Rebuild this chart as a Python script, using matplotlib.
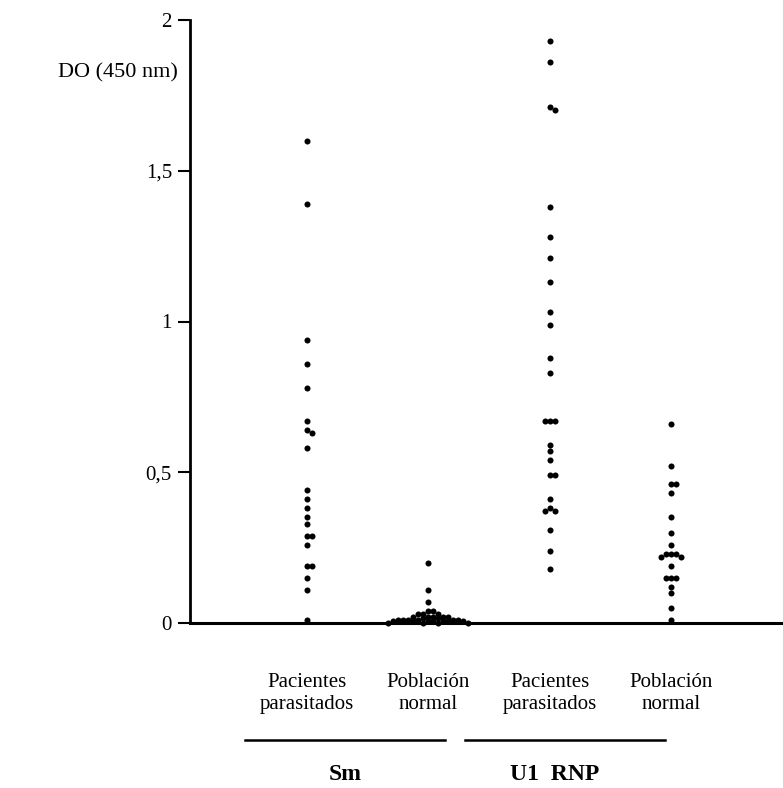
import numpy as np
import matplotlib
matplotlib.use('Agg')
from matplotlib import pyplot as plt
from matplotlib.lines import Line2D

plt.rcParams['font.family'] = ['Liberation Serif', 'DejaVu Serif']

# data (DO at 450 nm)
categories = ['Pacientes\nparasitados', 'Población\nnormal',
              'Pacientes\nparasitados', 'Población\nnormal']
groups = ['Sm', 'U1  RNP']

sm_pacientes = [1.60, 1.39, 0.94, 0.86, 0.78, 0.67, 0.64, 0.63, 0.58, 0.44, 0.41,
                0.38, 0.35, 0.33, 0.29, 0.29, 0.26, 0.19, 0.19, 0.15, 0.11, 0.01]
sm_normal = [0.20, 0.11, 0.07, 0.04, 0.04, 0.03, 0.03, 0.03, 0.02, 0.02, 0.02,
             0.02, 0.02, 0.015, 0.015, 0.01, 0.01, 0.01, 0.01, 0.01, 0.01, 0.005,
             0.005, 0.005, 0.005, 0.005, 0.005, 0.005, 0.0, 0.0, 0.0, 0.0]
u1_pacientes = [1.93, 1.86, 1.71, 1.70, 1.38, 1.28, 1.21, 1.13, 1.03, 0.99, 0.88,
                0.83, 0.67, 0.67, 0.67, 0.59, 0.57, 0.54, 0.49, 0.49, 0.41, 0.38,
                0.37, 0.37, 0.31, 0.24, 0.18]
u1_normal = [0.66, 0.52, 0.46, 0.46, 0.43, 0.35, 0.30, 0.26, 0.23, 0.23, 0.23,
             0.22, 0.22, 0.19, 0.15, 0.15, 0.15, 0.12, 0.10, 0.05, 0.01]

y_ticks = [0, 0.5, 1, 1.5, 2]
y_tick_labels = ['0', '0,5', '1', '1,5', '2']


def swarm(values, dot_px, px_x, px_y):
    # simple beeswarm: push points sideways until they stop overlapping
    placed = []
    offsets = []
    for v in values:
        y = v * px_y
        k = 0
        while True:
            step = (k + 1) // 2 * (1 if k % 2 else -1) * dot_px
            ok = all((step - px) ** 2 + (y - py) ** 2 >= (0.8 * dot_px) ** 2 for px, py in placed)
            if ok:
                break
            k += 1
        placed.append((step, y))
        offsets.append(step / px_x)
    return np.array(offsets)


fig = plt.figure(figsize=(7.83, 7.88), dpi=100)
ax = fig.add_axes([190 / 783, 1 - 623 / 788, 1 - 190 / 783, (623 - 20) / 788])

x_min, x_max = 0.04, 4.92
ax.set_xlim(x_min, x_max)
ax.set_ylim(0, 2)

px_x = 593 / (x_max - x_min)
px_y = 603 / 2

series = [sm_pacientes, sm_normal, u1_pacientes, u1_normal]
for i, vals in enumerate(series):
    offs = swarm(vals, 5.0, px_x, px_y)
    ax.scatter(i + 1 + offs, vals, s=19, color='black', linewidths=0, clip_on=False, zorder=3)

for side in ['top', 'right']:
    ax.spines[side].set_visible(False)
ax.spines['left'].set_linewidth(2)
ax.spines['bottom'].set_linewidth(2.2)

ax.set_yticks(y_ticks)
ax.set_yticklabels(y_tick_labels, fontsize=15)
ax.tick_params(axis='y', direction='out', length=9, width=1.5, pad=4)

ax.set_xticks([1, 2, 3, 4])
ax.set_xticklabels(categories, fontsize=15, linespacing=1.2)
ax.tick_params(axis='x', length=0, pad=36)

fig.text(178 / 783, 1 - 73 / 788, 'DO (450 nm)', fontsize=16, ha='right', va='center')

# group brackets under the categories
for x0, x1 in [(245, 445), (465, 665)]:
    fig.add_artist(Line2D([x0 / 783, x1 / 783], [1 - 740 / 788] * 2, color='black', linewidth=1.8))
for xc, label in zip([345, 555], groups):
    fig.text(xc / 783, 1 - 775 / 788, label, fontsize=17, fontweight='bold', ha='center', va='center')

plt.savefig('out.png', dpi=100)
plt.close()
